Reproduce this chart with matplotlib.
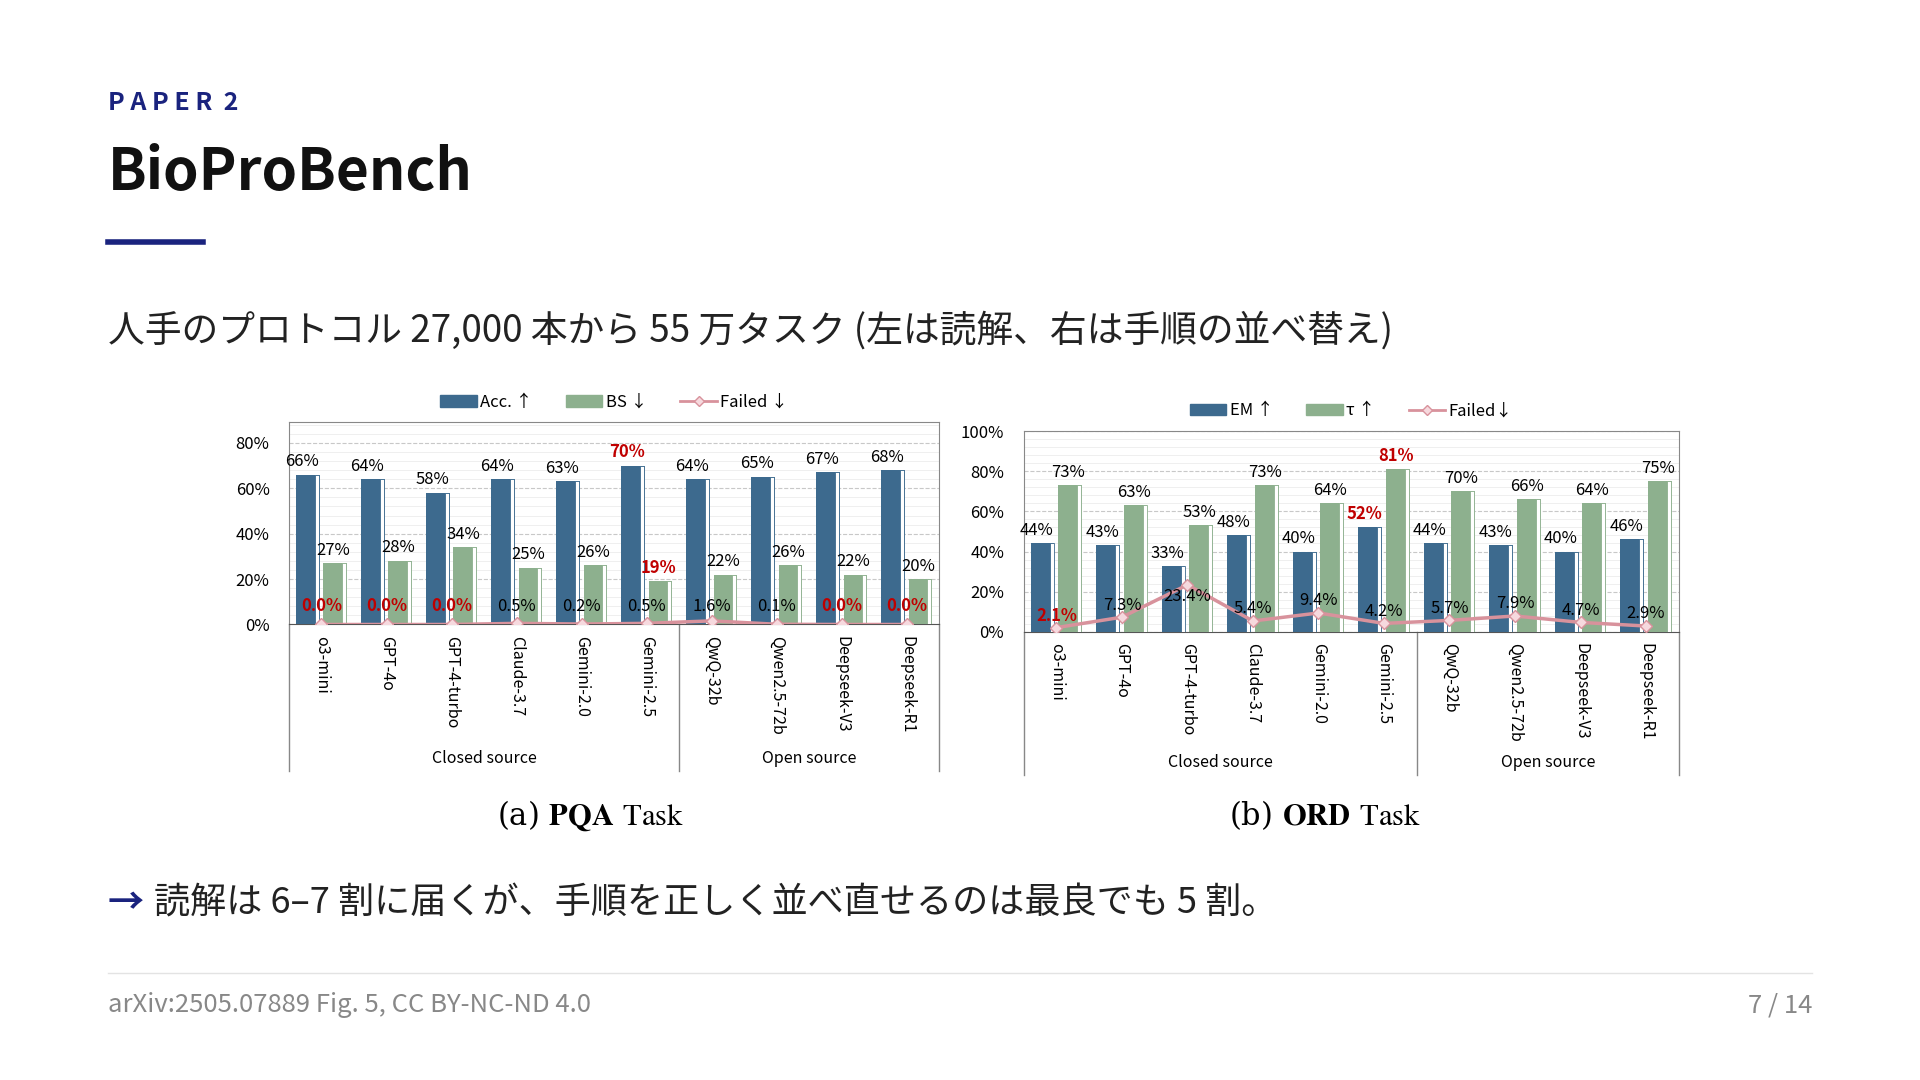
import matplotlib
matplotlib.use("Agg")
import matplotlib.pyplot as plt
import numpy as np
from matplotlib.lines import Line2D
from matplotlib.patches import Patch

plt.rcParams['font.family'] = ['Noto Sans CJK JP', 'DejaVu Sans']
plt.rcParams['mathtext.fontset'] = 'stix'

models = ["o3-mini", "GPT-4o", "GPT-4-turbo", "Claude-3.7", "Gemini-2.0", "Gemini-2.5",
          "QwQ-32b", "Qwen2.5-72b", "Deepseek-V3", "Deepseek-R1"]

pqa_acc = [66, 64, 58, 64, 63, 70, 64, 65, 67, 68]
pqa_bs = [27, 28, 34, 25, 26, 19, 22, 26, 22, 20]
pqa_failed = [0.0, 0.0, 0.0, 0.5, 0.2, 0.5, 1.6, 0.1, 0.0, 0.0]

ord_em = [44, 43, 33, 48, 40, 52, 44, 43, 40, 46]
ord_tau = [73, 63, 53, 73, 64, 81, 70, 66, 64, 75]
ord_failed = [2.1, 7.3, 23.4, 5.4, 9.4, 4.2, 5.7, 7.9, 4.7, 2.9]

BLUE = "#3d6a8e"
GREEN = "#8db08e"
PINK = "#d8929c"
RED = "#c00000"
NAVY = "#1a237e"

fig = plt.figure(figsize=(19.2, 10.8), dpi=100)
fig.patch.set_facecolor("white")

S = 1568.0
H = 882.0


def fx(x):
    return x / S


def fy(y):
    return 1 - y / H


# slide text
fig.text(fx(88), fy(84), "P A P E R  2", fontsize=18, color=NAVY, weight="bold", va="center")
fig.text(fx(88), fy(141), "BioProBench", fontsize=41, color="#111111", weight="bold", va="center")
fig.add_artist(Line2D([fx(88), fx(166)], [fy(198), fy(198)], color=NAVY, lw=4))
fig.text(fx(88), fy(270), "人手のプロトコル 27,000 本から 55 万タスク (左は読解、右は手順の並べ替え)",
         fontsize=26.5, color="#222222", va="center")
fig.text(fx(88), fy(738), "→", fontsize=26, color=NAVY, weight="bold", va="center")
fig.text(fx(126), fy(738), "読解は 6–7 割に届くが、手順を正しく並べ直せるのは最良でも 5 割。",
         fontsize=26, color="#222222", va="center")
fig.add_artist(Line2D([fx(88), fx(1480)], [fy(795), fy(795)], color="#e3e3e3", lw=1))
fig.text(fx(88), fy(821), "arXiv:2505.07889 Fig. 5, CC BY-NC-ND 4.0", fontsize=18.5, color="#888888", va="center")
fig.text(fx(1480), fy(821), "7 / 14", fontsize=18.5, color="#888888", va="center", ha="right")


def panel(rect, a, b, failed, names, ymax, yticks, red_a, red_b, red_f, bottom_px, caption, cap_bold, cap_x):
    ax = fig.add_axes(rect)
    x = np.arange(len(models))
    w = 0.36
    for xi, v in zip(x, a):
        ax.bar(xi - 0.21, v, w, color=BLUE, zorder=3)
        ax.bar(xi - 0.21 + w / 2 - 0.04, v, 0.06, color="white", edgecolor=BLUE, lw=0.6, zorder=4)
    for xi, v in zip(x, b):
        ax.bar(xi + 0.21, v, w, color=GREEN, zorder=3)
        ax.bar(xi + 0.21 + w / 2 - 0.04, v, 0.06, color="white", edgecolor=GREEN, lw=0.6, zorder=4)
    ax.plot(x, failed, color=PINK, lw=2.5, marker="D", ms=6, mfc="#f6d9de", mec=PINK, zorder=5)

    for i, v in enumerate(a):
        red = i in red_a
        ax.text(x[i] - 0.3, v + 2, f"{v}%", ha="center", va="bottom", fontsize=12,
                color=RED if red else "black", weight="bold" if red else "normal", zorder=6)
    for i, v in enumerate(b):
        red = i in red_b
        ax.text(x[i] + 0.18, v + 2, f"{v}%", ha="center", va="bottom", fontsize=12,
                color=RED if red else "black", weight="bold" if red else "normal", zorder=6)
    for i, v in enumerate(failed):
        red = i in red_f
        yy = v - 6 if v > 15 else max(v + 6, 8)
        ax.text(x[i], yy, f"{v:.1f}%", ha="center", va="center", fontsize=12,
                color=RED if red else "black", weight="bold" if red else "normal", zorder=6)

    ax.set_xlim(-0.5, len(models) - 0.5)
    ax.set_ylim(0, ymax)
    ax.set_yticks(yticks)
    ax.set_yticklabels([f"{t}%" for t in yticks], fontsize=12)
    ax.set_yticks(np.arange(0, ymax, 4), minor=True)
    ax.grid(axis="y", which="minor", color="#ececec", lw=0.6, zorder=0)
    ax.grid(axis="y", which="major", color="#c8c8c8", lw=0.8, ls="--", zorder=0)
    ax.tick_params(axis="y", length=0, pad=14)
    ax.tick_params(axis="y", which="minor", length=0)
    ax.set_xticks(x)
    ax.set_xticklabels(names, rotation=-90, fontsize=11.5, va="top", ha="center")
    ax.tick_params(axis="x", length=0, pad=8)
    for sp in ax.spines.values():
        sp.set_color("#888888")
    ax.spines["bottom"].set_color("#555555")

    # group box below axis
    lo = ax.transAxes
    depth = bottom_px / (rect[3] * H)
    for xa in [0.0, 1.0]:
        ax.add_artist(Line2D([xa, xa], [0, -depth], transform=lo, color="#888888", lw=1, clip_on=False))
    sep = 6 / len(models)
    ax.add_artist(Line2D([sep, sep], [0, -depth], transform=lo, color="#888888", lw=1, clip_on=False))
    ax.text(sep / 2, -depth + 0.02, "Closed source", transform=lo, ha="center", va="bottom", fontsize=11.5)
    ax.text((sep + 1) / 2, -depth + 0.02, "Open source", transform=lo, ha="center", va="bottom", fontsize=11.5)

    handles = [Patch(facecolor=BLUE, edgecolor=BLUE), Patch(facecolor=GREEN, edgecolor=GREEN),
               Line2D([0], [0], color=PINK, lw=2, marker="D", ms=5, mfc="#f6d9de", mec=PINK)]
    ax.legend(handles, legend_labels[caption], loc="lower center", bbox_to_anchor=(0.5, 1.0),
              ncol=3, frameon=False, fontsize=12, handlelength=2.2, handletextpad=0.2,
              columnspacing=2.0, borderaxespad=0.3)

    fig.text(cap_x, fy(666), f"({caption}) $\\mathbf{{{cap_bold}}}$ $\\mathrm{{Task}}$",
             fontsize=22, ha="center", va="center", family="DejaVu Serif")
    return ax


legend_labels = {"a": ["Acc. ↑", "BS ↓", "Failed ↓"], "b": ["EM ↑", "τ ↑", "Failed↓"]}

panel([fx(236), fy(510), fx(767) - fx(236), fy(345) - fy(510)], pqa_acc, pqa_bs, pqa_failed, models,
      89, [0, 20, 40, 60, 80], [5], [5], [0, 1, 2, 8, 9], 120, "a", "PQA", fx(482))
panel([fx(836), fy(516), fx(1371) - fx(836), fy(352) - fy(516)], ord_em, ord_tau, ord_failed, models,
      100, [0, 20, 40, 60, 80, 100], [5], [5], [0], 117, "b", "ORD", fx(1082))

fig.savefig("out.png", dpi=100, facecolor="white")
